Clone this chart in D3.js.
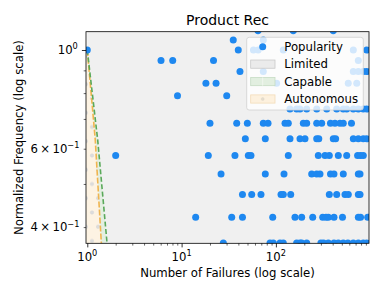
<!DOCTYPE html>
<html>
<head>
<meta charset="utf-8">
<script src="https://cdn.jsdelivr.net/npm/d3@7"></script>
<style>
  body { margin: 0; background: #fff; }
  text { font-family: "DejaVu Sans", sans-serif; fill: #000; }
</style>
</head>
<body>
<div id="chart"></div>
<script>
// Data: each row of points sits on a frequency level k/19
var levels = [21, 20, 19, 18, 17, 16, 15, 14, 13, 12, 11, 10, 9, 8, 7];
var failures21 = [64.6, 152.9, 406];
var failures20 = [35.3, 73.5];
var failures19 = [1, 39.9, 57.8, 64.8, 119.7, 662, 918];
var failures18 = [6.05, 8.05, 21.8, 748];
var failures17 = [41.6, 73.5, 662, 748, 845, 918];
var failures16 = [18.1, 23.2, 101.7, 585, 720];
var failures15 = [9.05, 30.1];
var failures14 = [141, 166, 180, 212, 271, 346, 441, 518, 563, 662, 748, 845, 918];
var failures13 = [20.0, 38.4, 49.8, 73.5, 82.5, 124.9, 135.4, 195.3, 212.1, 270.8, 305.9, 379, 423, 478, 518, 633];
var failures12 = [47.4, 77.2, 141.1, 180.1, 203.5, 270.8, 285, 406, 430, 662, 748, 845, 918];
var failures11 = [2.0, 19.2, 36.8, 51.0, 54.4, 135.4, 281.6, 331.7, 368.4, 458.8, 563.3, 735, 790, 845];
var failures10 = [26.2, 77.2, 121.9, 239.6, 270.8, 293.5, 379.3, 413, 518.4, 748, 780];
var failures9 = [44.2, 55.4, 69.5, 113.3, 119.8, 143.6, 368.4, 441.3, 540.4, 585.8, 748, 780];
var failures8 = [14.1, 34.0, 44.2, 92.5, 159.4, 187.7, 245.6, 313.5, 339.9, 359.5, 413.1, 508.4, 748, 790, 941];
var failures7 = [27.7, 86.6, 93.8, 110.5, 119.8, 166, 180, 187.7, 212.1, 300, 320, 359.5, 413, 458.8, 518, 580, 662, 748, 845, 918];
var rows = [failures21, failures20, failures19, failures18, failures17, failures16, failures15,
            failures14, failures13, failures12, failures11, failures10, failures9, failures8, failures7];

// Region boundaries as [failures, frequency]
var autonomousEdge = [[1, 1], [1.215, 0.628], [1.41, 0.368], [1.42, 0.36]];
var capableEdge = [[1, 1], [1.289, 0.628], [1.62, 0.368], [1.64, 0.36]];

var legendLabels = ["Popularity", "Limited", "Capable", "Autonomous"];
var xMajor = [1, 10, 100];
var xMinor = [2, 3, 4, 5, 6, 7, 8, 9, 20, 30, 40, 50, 60, 70, 80, 90, 200, 300, 400, 500, 600, 700, 800, 900];
var yMajor = [1];
var yMinor = [0.4, 0.5, 0.6, 0.7, 0.8, 0.9];
var yMinorLabels = {0.6: "6", 0.4: "4"};

var points = [];
rows.forEach(function(r, i) {
  r.forEach(function(f) { points.push({x: f, y: levels[i] / 19}); });
});

// Dimensions
var svgWidth = 382, svgHeight = 297;
var marginLeft = 86, marginTop = 31.7;
var chartWidth = 283, chartHeight = 211.6;

var svg = d3.select("#chart").append("svg")
  .attr("width", svgWidth)
  .attr("height", svgHeight);

var defs = svg.append("defs");
defs.append("clipPath").attr("id", "plotclip")
  .append("rect").attr("width", chartWidth).attr("height", chartHeight);

var hatch = defs.append("pattern").attr("id", "ohatch")
  .attr("patternUnits", "userSpaceOnUse")
  .attr("x", 0).attr("y", 81.05)
  .attr("width", 12).attr("height", 28.5);
[[6, 14.25], [0, 0], [12, 0], [0, 28.5], [12, 28.5]].forEach(function(c) {
  hatch.append("circle").attr("cx", c[0]).attr("cy", c[1]).attr("r", 1.7)
    .attr("fill", "#dcdcdc").attr("stroke", "#d2d2d2").attr("stroke-width", 0.5);
});

var chartGroup = svg.append("g")
  .attr("transform", `translate(${marginLeft}, ${marginTop})`);

var xScale = d3.scaleLog().domain([0.969, 971]).range([0, chartWidth]);
var yScale = d3.scaleLog().domain([0.3678, 1.0993]).range([chartHeight, 0]);

var plot = chartGroup.append("g").attr("clip-path", "url(#plotclip)");

// Limited region (everything right of x = 1)
plot.append("rect")
  .attr("x", xScale(1)).attr("y", 0)
  .attr("width", chartWidth - xScale(1)).attr("height", chartHeight)
  .attr("fill", "#f0f0f0");

var x0 = xScale.domain()[0];
var yBottom = 0.36;

// Capable region between the two boundaries
var capablePoly = capableEdge.concat(autonomousEdge.slice().reverse());
plot.append("path")
  .attr("d", d3.line().x(d => xScale(d[0])).y(d => yScale(d[1]))(capablePoly) + "Z")
  .attr("fill", "#e3efe1");

// Autonomous region
var autoPoly = [[x0, 1]].concat(autonomousEdge).concat([[x0, yBottom]]);
var autoPath = d3.line().x(d => xScale(d[0])).y(d => yScale(d[1]))(autoPoly) + "Z";
plot.append("path").attr("d", autoPath).attr("fill", "#fdf3e3");
plot.append("path").attr("d", autoPath).attr("fill", "url(#ohatch)");

var edgeLine = d3.line().x(d => xScale(d[0])).y(d => yScale(d[1]));
plot.append("path")
  .attr("d", edgeLine(autonomousEdge))
  .attr("fill", "none")
  .attr("stroke", "#f0b44e")
  .attr("stroke-width", 1.6)
  .attr("stroke-dasharray", "6,2");
plot.append("path")
  .attr("d", edgeLine(capableEdge))
  .attr("fill", "none")
  .attr("stroke", "#5aa95a")
  .attr("stroke-width", 1.6)
  .attr("stroke-dasharray", "5,2.5");

// Points
plot.selectAll("circle.pt")
  .data(points)
  .enter()
  .append("circle")
  .attr("class", "pt")
  .attr("cx", d => xScale(d.x))
  .attr("cy", d => yScale(d.y))
  .attr("r", 3.5)
  .attr("fill", "#1e88f0");

// Axes
function styleAxis(g) {
  g.select(".domain").remove();
  g.selectAll(".tick line").attr("stroke", "#000");
  g.selectAll(".tick text").remove();
}

chartGroup.append("g")
  .attr("transform", `translate(0,${chartHeight})`)
  .call(d3.axisBottom(xScale).tickValues(xMinor).tickSize(2.3).tickFormat(""))
  .call(styleAxis)
  .selectAll(".tick line").attr("stroke-width", 0.6);

chartGroup.append("g")
  .attr("transform", `translate(0,${chartHeight})`)
  .call(d3.axisBottom(xScale).tickValues(xMajor).tickSize(4.1).tickFormat(""))
  .call(styleAxis)
  .selectAll(".tick line").attr("stroke-width", 0.8);

chartGroup.append("g")
  .call(d3.axisLeft(yScale).tickValues(yMinor).tickSize(2.3).tickFormat(""))
  .call(styleAxis)
  .selectAll(".tick line").attr("stroke-width", 0.6);

chartGroup.append("g")
  .call(d3.axisLeft(yScale).tickValues(yMajor).tickSize(4.1).tickFormat(""))
  .call(styleAxis)
  .selectAll(".tick line").attr("stroke-width", 0.8);

// Tick labels with superscripts
xMajor.forEach(function(v) {
  var t = chartGroup.append("text")
    .attr("x", xScale(v))
    .attr("y", chartHeight + 17.3)
    .attr("text-anchor", "middle")
    .attr("font-size", 11.7);
  t.append("tspan").text("10");
  t.append("tspan").attr("font-size", 8.2).attr("dy", -4.6).text(Math.round(Math.log10(v)));
});

yMajor.forEach(function(v) {
  var t = chartGroup.append("text")
    .attr("x", -8.2)
    .attr("y", yScale(v) + 4.1)
    .attr("text-anchor", "end")
    .attr("font-size", 11.7);
  t.append("tspan").text("10");
  t.append("tspan").attr("font-size", 8.2).attr("dy", -4.6).text(Math.round(Math.log10(v)));
});

yMinor.filter(v => yMinorLabels[v]).forEach(function(v) {
  var t = chartGroup.append("text")
    .attr("x", -6.6)
    .attr("y", yScale(v) + 4.1)
    .attr("text-anchor", "end")
    .attr("font-size", 11.7);
  t.append("tspan").text(yMinorLabels[v] + "\u2009\u00d7\u200910");
  t.append("tspan").attr("font-size", 8.2).attr("dy", -4.6).text("\u22121");
});

// Spines
chartGroup.append("rect")
  .attr("width", chartWidth).attr("height", chartHeight)
  .attr("fill", "none").attr("stroke", "#000").attr("stroke-width", 0.8);

// Titles
chartGroup.append("text")
  .attr("x", chartWidth / 2).attr("y", -6.7)
  .attr("text-anchor", "middle").attr("font-size", 14)
  .text("Product Rec");

chartGroup.append("text")
  .attr("x", chartWidth / 2).attr("y", chartHeight + 34)
  .attr("text-anchor", "middle").attr("font-size", 11.7)
  .text("Number of Failures (log scale)");

chartGroup.append("g")
  .attr("transform", `translate(${22.7 - marginLeft}, ${chartHeight / 2})`)
  .append("text")
  .attr("text-anchor", "middle")
  .attr("transform", "rotate(-90)")
  .attr("font-size", 11.7)
  .text("Normalized Frequency (log scale)");

// Legend
var legend = svg.append("g").attr("transform", "translate(246.7, 37.3)");
legend.append("rect")
  .attr("width", 116.6).attr("height", 72.7).attr("rx", 2.5)
  .attr("fill", "#fff").attr("fill-opacity", 0.8)
  .attr("stroke", "#d0d0d0").attr("stroke-width", 0.8);

var rowY = d3.scalePoint().domain(legendLabels).range([9.4, 61.7]);
var patchFill = {Limited: "#ebebeb", Capable: "#e2efe0", Autonomous: "#fdf1de"};
var patchEdge = {Limited: "#c9c9c9", Capable: "#c6dcc4", Autonomous: "#f3dcb8"};

legendLabels.forEach(function(lbl) {
  var cy = rowY(lbl);
  if (lbl === "Popularity") {
    legend.append("circle").attr("cx", 16).attr("cy", cy).attr("r", 3.5).attr("fill", "#1e88f0");
  } else {
    legend.append("rect")
      .attr("x", 4).attr("y", cy - 4.1).attr("width", 24.3).attr("height", 8.2)
      .attr("fill", patchFill[lbl]).attr("stroke", patchEdge[lbl]).attr("stroke-width", 0.8);
    if (lbl === "Capable") {
      legend.append("line").attr("x1", 16).attr("x2", 16).attr("y1", cy - 4.1).attr("y2", cy + 4.1)
        .attr("stroke", "#f4f8f3").attr("stroke-width", 0.8);
    }
    if (lbl === "Autonomous") {
      legend.append("circle").attr("cx", 16).attr("cy", cy).attr("r", 1.5)
        .attr("fill", "#e4dccd").attr("stroke", "#dcd3c4").attr("stroke-width", 0.4);
    }
  }
  legend.append("text")
    .attr("x", 37.6).attr("y", cy + 4.2)
    .attr("font-size", 11.7)
    .text(lbl);
});
</script>
</body>
</html>
